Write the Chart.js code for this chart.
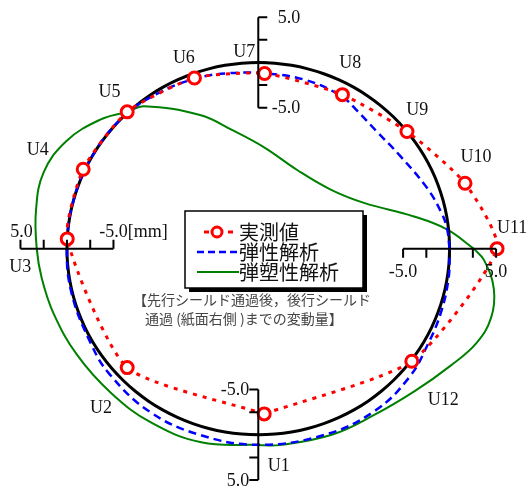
<!DOCTYPE html>
<html>
<head>
<meta charset="utf-8">
<script src="https://cdn.jsdelivr.net/npm/chart.js@4.4.0/dist/chart.umd.min.js"></script>
<style>
body { margin: 0; background: #fff; }
#wrap { width: 528px; height: 493px; }
</style>
</head>
<body>
<div id="wrap"><canvas id="ringChart"></canvas></div>
<script>
// gauge points (angle on the ring, deg, counter-clockwise from the right) and measured change [mm]
const gaugeNames = ['U1', 'U2', 'U3', 'U4', 'U5', 'U6', 'U7', 'U8', 'U9', 'U10', 'U11', 'U12'];
const gaugeAngles = [272, 223, 177, 155, 133, 110, 88, 62, 39, 18, 0, 323];
const measured = [-2.3, -1.3, 0.0, 0.2, 0.1, -0.5, -1.2, -1.3, 0.0, 2.8, 5.1, 0.1];

// elastic analysis [mm]
const elasticAngles = [0, 6, 11, 20, 34, 46, 55, 62, 75, 88, 100, 110, 122, 135, 150, 165, 180, 194, 210, 221, 237, 253, 270, 289, 305, 319, 330, 340, 351];
const elastic = [0.0, -0.15, -0.45, -1.2, -2.2, -2.4, -2.0, -1.5, -1.25, -1.2, -0.9, -0.6, -0.3, 0.0, 0.0, 0.0, 0.0, 0.1, 0.25, 0.6, 0.9, 0.95, 1.1, 1.2, 1.3, 1.0, 0.5, 0.3, 0.15];

// elasto-plastic analysis [mm]
const plasticAngles = [0, 6, 12, 24, 40, 64, 87, 102, 113, 128, 133, 140, 150, 160, 170, 180, 188, 198, 211, 225, 239, 254, 270, 276, 291, 304, 317, 328, 336, 343, 350, 357];
const plastic = [2.6, -0.17, -3.46, -8.13, -10.41, -10.93, -9.33, -7.18, -4.53, -0.6, 0.1, 1.61, 3.24, 4.0, 3.7, 3.25, 2.94, 2.58, 2.18, 1.9, 1.84, 1.69, 1.12, 1.26, 1.46, 1.63, 2.48, 3.82, 5.1, 5.6, 5.15, 3.74];

// scale rulers on the four axes [mm]
const rulerTicks = [-5.0, -2.5, 0, 2.5, 5.0];

// label spots for U1..U12 (chart units)
const labelSpots = [[2.2, -24.1], [-16.9, -17.6], [-25.6, -2.1], [-23.7, 10.9], [-16.0, 17.3], [-8.0, 21.0],
	[-1.5, 21.7], [9.9, 20.5], [17.1, 15.3], [23.4, 10.1], [27.3, 2.2], [19.9, -16.7]];

const RING = 20.57; // ring radius in mm-scale units

function polar(angle, d) {
	const a = angle * Math.PI / 180;
	return { x: (RING + d) * Math.cos(a), y: (RING + d) * Math.sin(a) };
}

function closedCurve(angles, values) {
	const pts = angles.map((a, i) => polar(a, values[i]));
	pts.push(pts[0]);
	return pts;
}

const ringAngles = [];
for (let a = 0; a <= 360; a += 5) ringAngles.push(a);

const serif = '"Liberation Serif", "Times New Roman", serif';
const jp = '"Noto Sans CJK JP", sans-serif';

const overlay = {
	id: 'overlay',
	afterDatasetsDraw(chart) {
		const ctx = chart.ctx;
		const xs = chart.scales.x, ys = chart.scales.y;
		const pix = (a, d) => {
			const p = polar(a, d);
			return [xs.getPixelForValue(p.x), ys.getPixelForValue(p.y)];
		};
		ctx.save();
		ctx.strokeStyle = '#000';
		ctx.fillStyle = '#111';
		ctx.lineWidth = 2;

		// rulers
		const rulers = [
			{ angle: 90, tx: 1, ty: 0 },
			{ angle: 180, tx: 0, ty: -1 },
			{ angle: 0, tx: 0, ty: 1 },
			{ angle: 270, tx: -1, ty: 0 }
		];
		rulers.forEach(r => {
			const a = pix(r.angle, rulerTicks[0]);
			const b = pix(r.angle, rulerTicks[rulerTicks.length - 1]);
			ctx.beginPath();
			ctx.moveTo(a[0], a[1]);
			ctx.lineTo(b[0], b[1]);
			rulerTicks.forEach(t => {
				const p = pix(r.angle, t);
				ctx.moveTo(p[0], p[1]);
				ctx.lineTo(p[0] + r.tx * 9, p[1] + r.ty * 9);
			});
			ctx.stroke();
		});

		ctx.font = '18px ' + serif;
		ctx.textBaseline = 'middle';
		let p;
		// top
		ctx.textAlign = 'right';
		p = pix(90, 5); ctx.fillText('5.0', p[0] + 42, p[1] + 1);
		p = pix(90, -5); ctx.fillText('-5.0', p[0] + 42, p[1] + 1);
		// bottom
		p = pix(270, -5); ctx.fillText('-5.0', p[0] - 9, p[1] + 1);
		p = pix(270, 5); ctx.fillText('5.0', p[0] - 9, p[1] + 1);
		// left
		ctx.textAlign = 'center';
		p = pix(180, 5); ctx.fillText('5.0', p[0] + 1, p[1] - 16);
		p = pix(180, -5);
		ctx.textAlign = 'left';
		ctx.fillText('-5.0[mm]', p[0] - ctx.measureText('-5.0').width / 2, p[1] - 16);
		// right
		ctx.textAlign = 'center';
		p = pix(0, -5); ctx.fillText('-5.0', p[0], p[1] + 24);
		p = pix(0, 5); ctx.fillText('5.0', p[0], p[1] + 24);

		// gauge names
		gaugeNames.forEach((n, i) => {
			ctx.fillText(n, xs.getPixelForValue(labelSpots[i][0]), ys.getPixelForValue(labelSpots[i][1]));
		});

		// legend box
		const bx = 185, by = 211, bw = 178, bh = 77;
		ctx.fillStyle = '#000';
		ctx.fillRect(bx + 4, by + 4, bw, bh);
		ctx.fillStyle = '#fff';
		ctx.fillRect(bx, by, bw, bh);
		ctx.lineWidth = 1.5;
		ctx.strokeRect(bx, by, bw, bh);

		// legend samples
		ctx.lineWidth = 3;
		ctx.strokeStyle = '#ff0000';
		ctx.setLineDash([5, 7]);
		ctx.beginPath(); ctx.moveTo(204, 232); ctx.lineTo(238, 232); ctx.stroke();
		ctx.setLineDash([]);
		ctx.beginPath(); ctx.arc(217, 232, 5, 0, Math.PI * 2);
		ctx.fillStyle = '#fff'; ctx.fill(); ctx.stroke();

		ctx.strokeStyle = '#0000ff';
		ctx.lineWidth = 2.5;
		ctx.setLineDash([7, 4]);
		ctx.beginPath(); ctx.moveTo(197, 252); ctx.lineTo(239, 252); ctx.stroke();
		ctx.setLineDash([]);

		ctx.strokeStyle = '#008000';
		ctx.lineWidth = 2;
		ctx.beginPath(); ctx.moveTo(197, 272); ctx.lineTo(239, 272); ctx.stroke();

		ctx.fillStyle = '#111';
		ctx.font = '20px ' + jp;
		ctx.textAlign = 'left';
		ctx.fillText('実測値', 239, 232);
		ctx.fillText('弾性解析', 239, 252);
		ctx.fillText('弾塑性解析', 239, 272);

		// note
		ctx.fillStyle = '#444';
		ctx.font = '14px ' + jp;
		ctx.fillText('【先行シールド通過後，後行シールド', 133, 300);
		ctx.fillText('通過 (紙面右側 )までの変動量】', 145, 319);
		ctx.restore();
	}
};

const ctx = document.getElementById('ringChart').getContext('2d');
const myChart = new Chart(ctx, {
	type: 'scatter',
	data: {
		datasets: [{
			label: '実測値',
			data: closedCurve(gaugeAngles, measured),
			showLine: true,
			borderColor: '#ff0000',
			borderWidth: 3,
			borderDash: [4, 6],
			tension: 0.2,
			pointRadius: c => c.dataIndex === gaugeAngles.length ? 0 : 6,
			pointBorderWidth: 3,
			pointBorderColor: '#ff0000',
			pointBackgroundColor: '#fff'
		}, {
			label: '弾性解析',
			data: closedCurve(elasticAngles, elastic),
			showLine: true,
			borderColor: '#0000ff',
			borderWidth: 2.5,
			borderDash: [8, 5],
			tension: 0.4,
			pointRadius: 0
		}, {
			label: 'ring',
			data: ringAngles.map(a => polar(a, 0)),
			showLine: true,
			borderColor: '#000',
			borderWidth: 3,
			tension: 0.4,
			pointRadius: 0
		}, {
			label: '弾塑性解析',
			data: closedCurve(plasticAngles, plastic),
			showLine: true,
			borderColor: '#008000',
			borderWidth: 2,
			tension: 0.4,
			pointRadius: 0
		}]
	},
	options: {
		responsive: true,
		maintainAspectRatio: false,
		animation: false,
		events: [],
		layout: { padding: 0, autoPadding: false },
		plugins: {
			legend: { display: false },
			tooltip: { enabled: false }
		},
		scales: {
			x: { type: 'linear', min: -27.77, max: 29.0, display: false },
			y: { type: 'linear', min: -27.0, max: 27.475, display: false }
		}
	},
	plugins: [overlay]
});
</script>
</body>
</html>
